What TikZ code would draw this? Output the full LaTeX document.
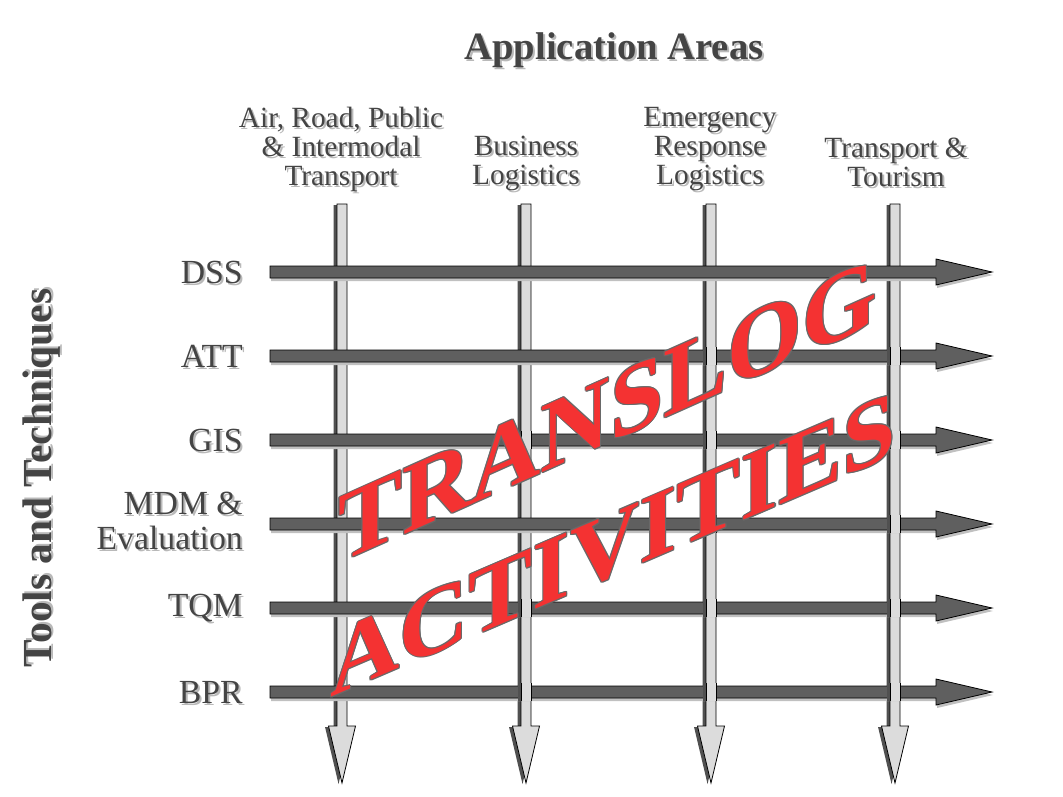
\documentclass[tikz,border=0pt]{standalone}
\usepackage{fontspec}
\setmainfont{Liberation Serif}
\usepackage{tikz}
\usetikzlibrary{shadows}
\definecolor{barfill}{RGB}{95,95,95}
\definecolor{barshade}{RGB}{192,192,192}
\definecolor{colfill}{RGB}{220,220,220}
\definecolor{colshade}{RGB}{80,80,80}
\definecolor{lblgray}{RGB}{68,68,68}
\definecolor{lblshade}{RGB}{185,185,185}
\definecolor{tlred}{RGB}{244,50,50}
\definecolor{tlrim}{RGB}{105,105,105}
\newcommand{\harrow}[1]{ \filldraw[rowbar] (270,#1-6) -- (936,#1-6) -- (936,#1-13) -- (992,#1) -- (936,#1+13) -- (936,#1+6) -- (270,#1+6) -- cycle;}
\newcommand{\varrow}[1]{ \filldraw[colbar] (#1-5,204) -- (#1+5,204) -- (#1+5,726) -- (#1+13.5,726) -- (#1,783) -- (#1-13.5,726) -- (#1-5,726) -- cycle;}
\newcommand{\vover}[2]{ \fill[colshade] ( #1 - 8.5 , #2 - 9 ) rectangle ( #1 - 5 , #2 + 9 ); \fill[colfill] ( #1 - 5 , #2 - 9 ) rectangle ( #1 + 5 , #2 + 9 ); \draw[line width=0.6pt] ( #1 - 5 , #2 - 9 ) -- ( #1 - 5 , #2 + 9 ) ( #1 + 5 , #2 - 9 ) -- ( #1 + 5 , #2 + 9 );}
\newcommand{\lbl}[4]{ \node[lbl, #3, text=lblshade, xshift=1.5pt, yshift=-1.5pt] (#1-sh) at (#2) {#4}; \node[lbl, #3] (#1) at (#2) {#4};}
\newcommand{\bigword}[4]{ \foreach \dx/\dy [count=\k] in {0.8/0,-0.8/0,0/0.8,0/-0.8,0.57/0.57,-0.57/0.57,0.57/-0.57,-0.57/-0.57} { \node[bigtxt, #3, text=tlrim, xshift=\dx pt, yshift=\dy pt, yslant=0.43] (#1-o\k) at (#2) {#4}; } \node[bigtxt, #3, text=tlred, yslant=0.43] (#1) at (#2) {#4};}

\begin{document}
\begin{tikzpicture}[x=0.75pt, y=-0.75pt,
    rowbar/.style={fill=barfill, draw=black, line width=0.6pt, drop shadow={shadow xshift=0.75pt, shadow yshift=-2.25pt, fill=barshade, opacity=1}},
    colbar/.style={fill=colfill, draw=black, line width=0.6pt, drop shadow={shadow xshift=-2.6pt, shadow yshift=-0.75pt, fill=colshade, opacity=1}},
    lbl/.style={inner sep=0pt, text=lblgray},
    headlbl/.style={font=\fontsize{29}{29}\selectfont\bfseries},
    collbl/.style={font=\fontsize{22}{21.75}\selectfont, align=center},
    rowlbl/.style={font=\fontsize{25.3}{26.25}\selectfont, align=right, anchor=east},
    bigtxt/.style={anchor=base west, inner sep=0pt, transform shape, font=\fontsize{72}{72}\selectfont\bfseries}]
        \useasboundingbox (0,0) rectangle (1063,796);

        % columns (under)
        \varrow{342}
        \varrow{526}
        \varrow{711}
        \varrow{895}

        % rows
        \harrow{272}
        \harrow{356}
        \harrow{440}
        \harrow{524}
        \harrow{608}
        \harrow{692}

        % columns passing over rows
        \vover{526}{440}
        \vover{526}{608}
        \vover{526}{692}
        \vover{711}{356}
        \vover{711}{440}
        \vover{711}{524}
        \vover{711}{608}
        \vover{711}{692}
        \vover{895}{356}
        \vover{895}{440}
        \vover{895}{524}
        \vover{895}{608}
        \vover{895}{692}

        % headings
        \lbl{areas}{614,50}{headlbl}{Application Areas}
        \lbl{tools}{42,478}{headlbl, font=\fontsize{31}{31}\selectfont\bfseries, rotate=90}{Tools and Techniques}

        % application areas
        \lbl{transp}{341,149}{collbl}{Air, Road, Public\\\& Intermodal\\Transport}
        \lbl{busin}{526,163}{collbl}{Business\\Logistics}
        \lbl{emerg}{710,149}{collbl}{Emergency\\Response\\Logistics}
        \lbl{tourism}{896,162}{collbl}{Transport \&\\Tourism}

        % tools and techniques
        \lbl{dss}{243,272}{rowlbl}{DSS}
        \lbl{att}{243,356}{rowlbl}{ATT}
        \lbl{gis}{243,440}{rowlbl}{GIS}
        \lbl{mdm}{243,521}{rowlbl}{MDM \&\\Evaluation}
        \lbl{tqm}{243,608}{rowlbl}{TQM}
        \lbl{bpr}{243,692}{rowlbl}{BPR}

        % slanted banner
        \bigword{translog}{338,564}{yscale=1.04}{TRANSLOG}
        \bigword{activ}{330,698}{}{ACTIVITIES}
    \end{tikzpicture}
\end{document}
